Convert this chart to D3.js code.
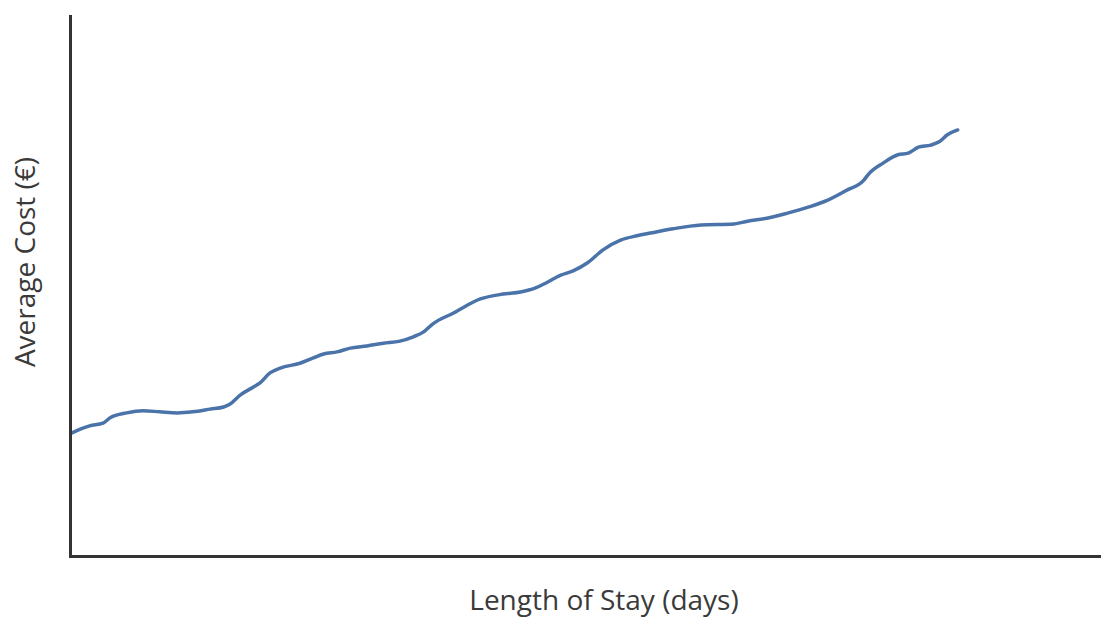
<!DOCTYPE html>
<html>
<head>
<meta charset="utf-8">
<script src="https://cdn.jsdelivr.net/npm/d3@7"></script>
<style>
  body { margin: 0; background: #fff; }
  svg { display: block; }
</style>
</head>
<body>
<div id="chart"></div>
<script>
// values (no tick labels, so units are relative)
const days = [0.2, 1.0, 1.9, 3.2, 3.9, 5.5, 7.1, 8.7, 10.4, 11.9, 13.6, 14.9, 15.5, 16.5, 17.8, 18.4,
  19.4, 20.4, 22.3, 23.6, 24.6, 25.9, 27.2, 28.8, 30.4, 32.0, 33.3, 34.3, 35.2, 37.2, 39.8, 42.0,
  43.7, 45.1, 46.3, 47.6, 48.8, 50.2, 51.7, 53.4, 55.0, 56.3, 58.5, 61.2, 64.4, 65.7, 67.7, 69.6,
  71.6, 73.5, 75.4, 77.0, 77.4, 78.9, 80.3, 81.3, 82.3, 83.5, 84.3, 85.1, 86.1];
const avgCost = [22.8, 23.5, 24.1, 24.6, 25.6, 26.5, 26.9, 26.7, 26.5, 26.7, 27.2, 27.6, 28.1, 29.8, 31.3, 32.0,
  33.9, 34.8, 35.7, 36.7, 37.4, 37.8, 38.5, 38.9, 39.4, 39.8, 40.6, 41.5, 43.0, 45.0, 47.6, 48.5,
  48.9, 49.6, 50.7, 52.0, 52.8, 54.3, 56.7, 58.5, 59.3, 59.8, 60.6, 61.3, 61.5, 62.0, 62.6, 63.5,
  64.6, 65.9, 67.8, 69.6, 70.6, 72.8, 74.3, 74.6, 75.7, 76.1, 76.7, 78.0, 78.9];
const xLabel = 'Length of Stay (days)';
const yLabel = 'Average Cost (€)';

const data = days.map((d, i) => ({day: d, cost: avgCost[i]}));

const svg = d3.select('#chart').append('svg').attr('width', 1101).attr('height', 619);

const margin = {top: 16, right: 0, bottom: 63, left: 70},
      width = +svg.attr('width') - margin.left - margin.right,
      height = +svg.attr('height') - margin.top - margin.bottom;

const x = d3.scaleLinear().domain([0, 100]).range([0, width]);
const y = d3.scaleLinear().domain([0, 100]).range([height, 0]);

const g = svg.append('g')
    .attr('transform', `translate(${margin.left},${margin.top})`);

const line = d3.line()
    .x(d => x(d.day))
    .y(d => y(d.cost))
    .curve(d3.curveMonotoneX);

g.append('path')
    .datum(data)
    .attr('fill', 'none')
    .attr('stroke', '#4a73a9')
    .attr('stroke-width', 3.5)
    .attr('stroke-linejoin', 'round')
    .attr('stroke-linecap', 'round')
    .attr('d', line);

const xAxis = g.append('g')
    .attr('transform', `translate(0,${height})`)
    .call(d3.axisBottom(x).tickValues([]).tickSizeOuter(0));
const yAxis = g.append('g')
    .call(d3.axisLeft(y).tickValues([]).tickSizeOuter(0));

[xAxis, yAxis].forEach(a => a.select('.domain')
    .attr('stroke', '#333')
    .attr('stroke-width', 3)
    .attr('stroke-linecap', 'square'));

svg.append('text')
    .attr('x', 604)
    .attr('y', 610)
    .attr('text-anchor', 'middle')
    .attr('font-family', 'Open Sans, sans-serif')
    .attr('font-size', 28)
    .attr('fill', '#3a3a3a')
    .text(xLabel);

svg.append('text')
    .attr('transform', 'translate(35,262) rotate(-90)')
    .attr('text-anchor', 'middle')
    .attr('font-family', 'Open Sans, sans-serif')
    .attr('font-size', 28)
    .attr('fill', '#3a3a3a')
    .text(yLabel);
</script>
</body>
</html>
